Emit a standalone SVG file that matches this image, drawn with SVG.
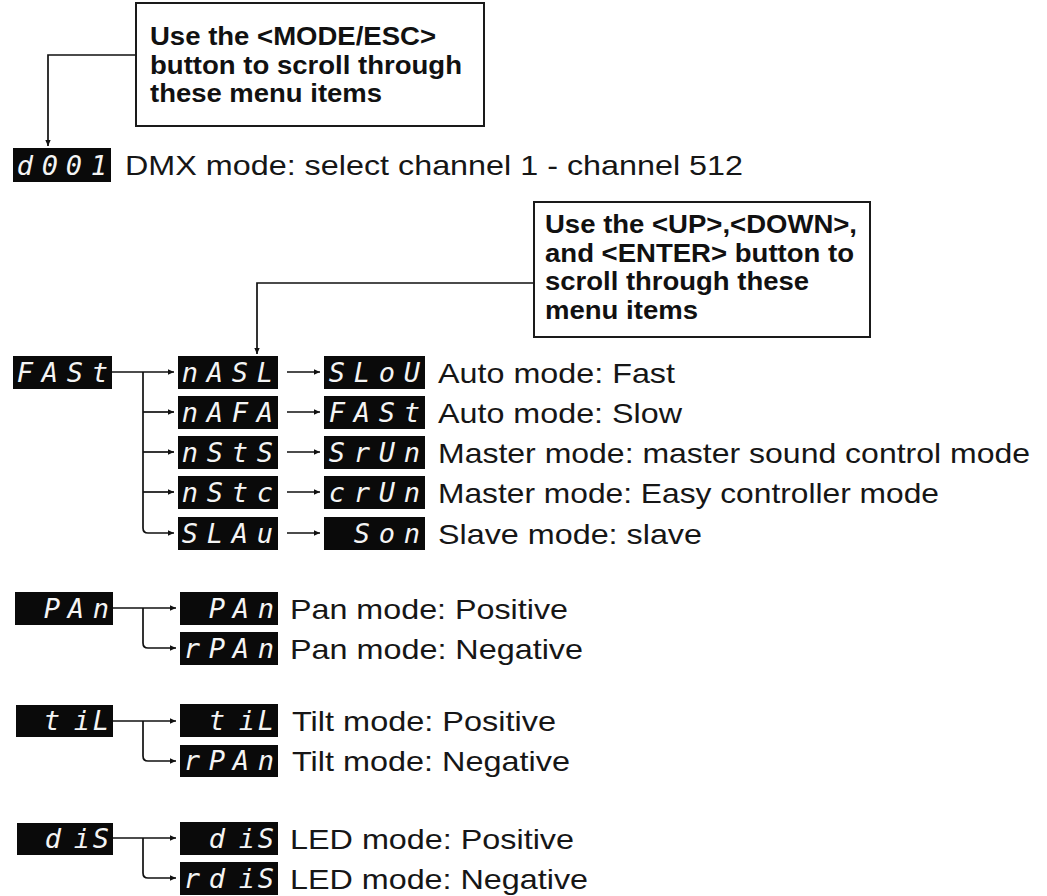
<svg xmlns="http://www.w3.org/2000/svg" width="1047" height="896" viewBox="0 0 1047 896">
<style>
.note{font-family:"Liberation Sans",Arial,sans-serif;font-weight:bold;font-size:25px;fill:#111}
.lbl{font-family:"Liberation Sans",Arial,sans-serif;font-size:28px;fill:#161616}
.seg{font-family:"DejaVu Sans Mono",monospace;font-style:italic;font-size:27px;fill:#f4f4f4;text-anchor:middle}
.frame{fill:#fff;stroke:#1a1a1a;stroke-width:2}
.disp{fill:#0a0a0a}
.conn{fill:none;stroke:#111;stroke-width:1.7}
</style>
<defs>
<marker id="ah" viewBox="0 0 10 10" refX="10" refY="5" markerWidth="8" markerHeight="6" markerUnits="userSpaceOnUse" orient="auto">
<path d="M0,0.5 L10,5 L0,9.5 z" fill="#111"/>
</marker>
</defs>
<rect width="1047" height="896" fill="#fff"/>

<g id="connectors">
<path class="conn" d="M136,55 H48 V146" marker-end="url(#ah)"/>
<path class="conn" d="M534,283 H257 V354" marker-end="url(#ah)"/>
<path class="conn" d="M112,372 H174" marker-end="url(#ah)"/>
<path class="conn" d="M143,372 V528 Q143,533 148,533 H174" marker-end="url(#ah)"/>
<path class="conn" d="M143,412 H174" marker-end="url(#ah)"/>
<path class="conn" d="M143,452 H174" marker-end="url(#ah)"/>
<path class="conn" d="M143,492 H174" marker-end="url(#ah)"/>
<path class="conn" d="M287,372 H320" marker-end="url(#ah)"/>
<path class="conn" d="M287,412 H320" marker-end="url(#ah)"/>
<path class="conn" d="M287,452 H320" marker-end="url(#ah)"/>
<path class="conn" d="M287,492 H320" marker-end="url(#ah)"/>
<path class="conn" d="M287,533 H320" marker-end="url(#ah)"/>
<path class="conn" d="M113,608 H176" marker-end="url(#ah)"/>
<path class="conn" d="M143,608 V643 Q143,648 148,648 H176" marker-end="url(#ah)"/>
<path class="conn" d="M113,721 H176" marker-end="url(#ah)"/>
<path class="conn" d="M143,721 V756 Q143,761 148,761 H176" marker-end="url(#ah)"/>
<path class="conn" d="M113,838 H176" marker-end="url(#ah)"/>
<path class="conn" d="M143,838 V873 Q143,878 148,878 H176" marker-end="url(#ah)"/>
</g>

<g id="note-mode">
<rect class="frame" x="136" y="3" width="348" height="123"/>
<text class="note" x="150" y="45" textLength="286" lengthAdjust="spacingAndGlyphs">Use the &lt;MODE/ESC&gt;</text>
<text class="note" x="150" y="73.5" textLength="312" lengthAdjust="spacingAndGlyphs">button to scroll through</text>
<text class="note" x="150" y="102" textLength="232" lengthAdjust="spacingAndGlyphs">these menu items</text>
</g>

<g id="note-updown">
<rect class="frame" x="534" y="202" width="336" height="135"/>
<text class="note" x="545" y="233" textLength="312" lengthAdjust="spacingAndGlyphs">Use the &lt;UP&gt;,&lt;DOWN&gt;,</text>
<text class="note" x="545" y="261.5" textLength="309" lengthAdjust="spacingAndGlyphs">and &lt;ENTER&gt; button to</text>
<text class="note" x="545" y="290" textLength="264" lengthAdjust="spacingAndGlyphs">scroll through these</text>
<text class="note" x="545" y="318.5" textLength="153" lengthAdjust="spacingAndGlyphs">menu items</text>
</g>

<g id="d001">
<rect class="disp" x="13" y="148" width="98" height="34"/>
<text class="seg" x="25 50 74 99" y="175">d001</text>
<text class="lbl" x="125" y="175" textLength="618" lengthAdjust="spacingAndGlyphs">DMX mode: select channel 1 - channel 512</text>
</g>

<g id="fast">
<rect class="disp" x="13" y="356" width="99" height="33"/>
<text class="seg" x="25 50 75 100" y="382">FASt</text>
</g>

<g id="nasl">
<rect class="disp" x="178" y="356" width="100" height="33"/>
<text class="seg" x="190 215 240 265" y="382">nASL</text>
</g>
<g id="slou">
<rect class="disp" x="324" y="356" width="101" height="33"/>
<text class="seg" x="337 362 387 412" y="382">SLoU</text>
<text class="lbl" x="438" y="383" textLength="237" lengthAdjust="spacingAndGlyphs">Auto mode: Fast</text>
</g>

<g id="nafa">
<rect class="disp" x="178" y="396" width="100" height="33"/>
<text class="seg" x="190 215 240 265" y="422">nAFA</text>
</g>
<g id="fast2">
<rect class="disp" x="324" y="396" width="101" height="33"/>
<text class="seg" x="337 362 387 412" y="422">FASt</text>
<text class="lbl" x="438" y="423" textLength="244" lengthAdjust="spacingAndGlyphs">Auto mode: Slow</text>
</g>

<g id="nsts">
<rect class="disp" x="178" y="436" width="100" height="33"/>
<text class="seg" x="190 215 240 265" y="462">nStS</text>
</g>
<g id="srun">
<rect class="disp" x="324" y="436" width="101" height="33"/>
<text class="seg" x="337 362 387 412" y="462">SrUn</text>
<text class="lbl" x="438" y="463" textLength="592" lengthAdjust="spacingAndGlyphs">Master mode: master sound control mode</text>
</g>

<g id="nstc">
<rect class="disp" x="178" y="476" width="100" height="33"/>
<text class="seg" x="190 215 240 265" y="502">nStc</text>
</g>
<g id="crun">
<rect class="disp" x="324" y="476" width="101" height="33"/>
<text class="seg" x="337 362 387 412" y="502">crUn</text>
<text class="lbl" x="438" y="503" textLength="501" lengthAdjust="spacingAndGlyphs">Master mode: Easy controller mode</text>
</g>

<g id="slau">
<rect class="disp" x="178" y="517" width="100" height="33"/>
<text class="seg" x="190 215 240 265" y="543">SLAu</text>
</g>
<g id="son">
<rect class="disp" x="324" y="517" width="101" height="33"/>
<text class="seg" x="362 387 412" y="543">Son</text>
<text class="lbl" x="438" y="544" textLength="264" lengthAdjust="spacingAndGlyphs">Slave mode: slave</text>
</g>

<g id="pan">
<rect class="disp" x="15" y="592" width="98" height="33"/>
<text class="seg" x="52 76 101" y="618">PAn</text>
</g>
<g id="pan-pos">
<rect class="disp" x="180" y="592" width="98" height="33"/>
<text class="seg" x="217 241 266" y="618">PAn</text>
<text class="lbl" x="290" y="619" textLength="278" lengthAdjust="spacingAndGlyphs">Pan mode: Positive</text>
</g>
<g id="pan-neg">
<rect class="disp" x="180" y="632" width="98" height="33"/>
<text class="seg" x="192 217 241 266" y="658">rPAn</text>
<text class="lbl" x="290" y="659" textLength="293" lengthAdjust="spacingAndGlyphs">Pan mode: Negative</text>
</g>

<g id="tilt">
<rect class="disp" x="16" y="705" width="97" height="32"/>
<text class="seg" x="52 82 101" y="730">tiL</text>
</g>
<g id="tilt-pos">
<rect class="disp" x="180" y="704" width="98" height="33"/>
<text class="seg" x="217 247 266" y="730">tiL</text>
<text class="lbl" x="292" y="731" textLength="264" lengthAdjust="spacingAndGlyphs">Tilt mode: Positive</text>
</g>
<g id="tilt-neg">
<rect class="disp" x="180" y="745" width="98" height="32"/>
<text class="seg" x="192 217 241 266" y="770">rPAn</text>
<text class="lbl" x="292" y="771" textLength="278" lengthAdjust="spacingAndGlyphs">Tilt mode: Negative</text>
</g>

<g id="dis">
<rect class="disp" x="17" y="823" width="96" height="32"/>
<text class="seg" x="53 82 101" y="848">diS</text>
</g>
<g id="dis-pos">
<rect class="disp" x="180" y="822" width="98" height="33"/>
<text class="seg" x="217 247 266" y="848">diS</text>
<text class="lbl" x="290" y="849" textLength="284" lengthAdjust="spacingAndGlyphs">LED mode: Positive</text>
</g>
<g id="dis-neg">
<rect class="disp" x="180" y="862" width="98" height="33"/>
<text class="seg" x="192 217 247 266" y="888">rdiS</text>
<text class="lbl" x="290" y="889" textLength="298" lengthAdjust="spacingAndGlyphs">LED mode: Negative</text>
</g>
</svg>
